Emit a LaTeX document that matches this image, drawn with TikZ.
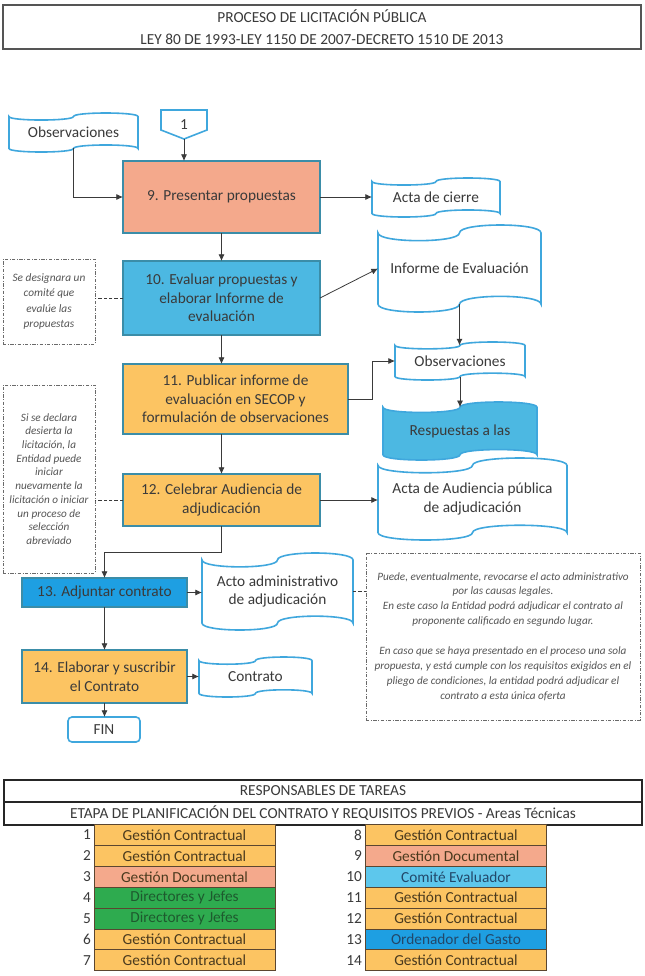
\documentclass[tikz,border=0pt]{standalone}
\usepackage{fontspec}
\setmainfont{Carlito}
\usetikzlibrary{arrows.meta,calc}
\definecolor{salmon}{HTML}{F4A98C}
\definecolor{lblue}{HTML}{4CB8E2}
\definecolor{tlblue}{HTML}{5DC7EC}
\definecolor{orng}{HTML}{FCC462}
\definecolor{dblue}{HTML}{1E9FE2}
\definecolor{grn}{HTML}{2EAB4F}
\definecolor{tapeblue}{HTML}{3FA7DD}
\definecolor{boxedge}{HTML}{3B8DA8}
\definecolor{txt}{HTML}{3A3A3A}
\definecolor{linegray}{HTML}{3A3A3A}
\definecolor{notegray}{HTML}{6A6A6A}
\definecolor{notetxt}{HTML}{555555}
\definecolor{cellline}{HTML}{5B4630}
\definecolor{celltxt}{HTML}{4A3A1E}
\definecolor{greentxt}{HTML}{1E5A2E}
\definecolor{bluetxt}{HTML}{22486A}
\definecolor{titlegray}{HTML}{555555}
\newcommand\pbox[7]{%
  \pgfmathsetmacro\bw{(#5-#3)*0.75}%
  \pgfmathsetmacro\bh{(#6-#4)*0.75}%
  \node[#2, minimum width=\bw pt, minimum height=\bh pt] (#1) at ({(#3+#5)/2},{(#4+#6)/2}) {#7};
}
\newcommand\tnode[7]{%
  \pgfmathsetmacro\tA{0.09*(#6-#4)}%
  \pgfmathsetmacro\tC{1.333*\tA}%
  \pgfmathsetmacro\tM{(#3+#5)/2}%
  \pgfmathsetmacro\tT{#4+\tA}%
  \pgfmathsetmacro\tB{#6-\tA}%
  \draw[tape,#2] (#3,\tT) .. controls (#3,{\tT+\tC}) and (\tM,{\tT+\tC}) .. (\tM,\tT)
     .. controls (\tM,{\tT-\tC}) and (#5,{\tT-\tC}) .. (#5,\tT)
     -- (#5,\tB) .. controls (#5,{\tB-\tC}) and (\tM,{\tB-\tC}) .. (\tM,\tB)
     .. controls (\tM,{\tB+\tC}) and (#3,{\tB+\tC}) .. (#3,\tB) -- cycle;
  \pgfmathsetmacro\bw{(#5-#3)*0.75}%
  \pgfmathsetmacro\bh{(\tB-\tT)*0.75}%
  \node[tapetext, minimum width=\bw pt, minimum height=\bh pt] (#1) at (\tM,{(#4+#6)/2}) {#7};
}
\begin{document}
\begin{tikzpicture}[x=0.75pt,y=-0.75pt,
  every node/.style={inner sep=0pt, outer sep=0pt},
  procbox/.style={draw=boxedge, line width=1.3pt, text=txt, align=center, font=\fontsize{11.5}{14}\selectfont},
  tape/.style={draw=tapeblue, line width=1.2pt, fill=white},
  tapetext/.style={text=txt, align=center, font=\fontsize{11.5}{14}\selectfont},
  note/.style={draw=notegray, line width=0.6pt, dash pattern=on 2.5pt off 1.2pt on 0.6pt off 1.2pt, text=notetxt, align=center},
  arr/.style={draw=linegray, line width=0.6pt, -{Latex[length=5pt,width=4.5pt]}},
  dline/.style={draw=linegray, line width=0.6pt, dash pattern=on 2.5pt off 1.5pt},
  cell/.style={draw=cellline, line width=0.7pt, minimum width=135.75pt, minimum height=15.675pt, font=\fontsize{11.5}{14}\selectfont},
  num/.style={anchor=east, font=\fontsize{11.5}{14}\selectfont, text=txt},
  hdr/.style={draw=black!85, line width=1.1pt, text=txt, font=\fontsize{11.5}{14}\selectfont}
]
\useasboundingbox (0,0) rectangle (645,976);
\fill[white] (0,0) rectangle (645,976);

% title
\pbox{title}{draw=titlegray, line width=0.8pt, text=txt, align=center, font=\fontsize{11.5}{16.5}\selectfont}{3}{5}{641}{49}{PROCESO DE LICITACIÓN PÚBLICA\\ LEY 80 DE 1993-LEY 1150 DE 2007-DECRETO 1510 DE 2013}

% off-page connector
\draw[tape] (161,110) -- (207,110) -- (207,130) -- (184,139) -- (161,130) -- cycle;
\pbox{c1}{tapetext}{161}{110}{207}{139}{1}

% process boxes
\pbox{b9}{procbox, fill=salmon}{123}{161}{320}{233}{9. Presentar propuestas}
\pbox{b10}{procbox, fill=lblue}{123}{261}{320}{335}{10. Evaluar propuestas y\\ elaborar Informe de\\ evaluación}
\pbox{b11}{procbox, fill=orng}{123}{364}{348}{434}{11. Publicar informe de\\ evaluación en SECOP y\\ formulación de observaciones}
\pbox{b12}{procbox, fill=orng}{123}{474}{320}{526}{12. Celebrar Audiencia de\\ adjudicación}
\pbox{b13}{procbox, fill=dblue}{22}{578}{187}{607}{13. Adjuntar contrato}
\pbox{b14}{procbox, fill=orng}{22}{650}{187}{703}{14. Elaborar y suscribir\\ el Contrato}
\pbox{fin}{procbox, draw=tapeblue, line width=1.2pt, rounded corners=3pt, fill=white}{68}{717}{140}{742}{FIN}

% documents (punched tape)
\tnode{obsL}{}{9}{113}{138}{152}{Observaciones}
\tnode{acta}{}{372}{178}{500}{217}{Acta de cierre}
\tnode{inf}{}{378}{225}{541}{312}{Informe de Evaluación}
\tnode{obsR}{}{395}{342}{525}{380}{Observaciones}
\tnode{resp}{fill=lblue}{383}{402}{537}{460}{Respuestas a las}
\tnode{actaA}{}{378}{458}{567}{540}{Acta de Audiencia pública\\ de adjudicación}
\tnode{acto}{}{202}{553}{353}{630}{Acto administrativo\\ de adjudicación}
\tnode{contr}{}{199}{657}{312}{697}{Contrato}

% notes
\pbox{n1}{note, font=\itshape\fontsize{8.5}{11.7}\selectfont}{3}{259}{95}{344}{Se designara un\\ comité que\\ evalúe las\\ propuestas}
\pbox{n2}{note, font=\itshape\fontsize{8.4}{10.3}\selectfont}{3}{385}{95}{573}{Si se declara\\ desierta la\\ licitación, la\\ Entidad puede\\ iniciar\\ nuevamente la\\ licitación o iniciar\\ un proceso de\\ selección\\ abreviado}
\pbox{rn}{note, font=\itshape\fontsize{8.4}{11.2}\selectfont}{366}{553}{640}{720}{Puede, eventualmente, revocarse el acto administrativo\\ por las causas legales.\\ En este caso la Entidad podrá adjudicar el contrato al\\ proponente calificado en segundo lugar.\\[11.2pt] En caso que se haya presentado en el proceso una sola\\ propuesta, y está cumple con los requisitos exigidos en el\\ pliego de condiciones, la entidad podrá adjudicar el\\ contrato a esta única oferta}

% connectors
\draw[arr] (obsL.south) |- (b9.west);
\draw[arr] (c1.south) -- (c1.south |- b9.north);
\draw[arr] (b9.east) -- (b9.east -| acta.west);
\draw[arr] (b9.south) -- (b10.north);
\draw[dline] (b10.west) -- (b10.west -| n1.east);
\draw[arr] (b10.east) -- (inf.west);
\draw[arr] (inf.south) -- (inf.south |- obsR.north);
\draw[arr] (b10.south) -- (b10.south |- b11.north);
\draw[arr] (b11.east) -- ++(24,0) |- (obsR.west);
\draw[arr] (obsR.south) -- (obsR.south |- resp.north);
\draw[arr] (b11.south -| b12.north) -- (b12.north);
\draw[dline] (b12.west) -- (b12.west -| n2.east);
\draw[arr] (b12.east) -- (b12.east -| actaA.west);
\draw[arr] (b12.south) -- ++(0,26) -| (b13.north);
\draw[arr] (b13.east) -- (b13.east -| acto.west);
\draw[dline] (acto.east) -- (acto.east -| rn.west);
\draw[arr] (b13.south) -- (b14.north);
\draw[arr] (b14.east) -- (b14.east -| contr.west);
\draw[arr] (b14.south) -- (b14.south |- fin.north);

% table
\pbox{h1}{hdr}{4}{780}{642}{802}{RESPONSABLES DE TAREAS}
\pbox{h2}{hdr}{4}{802}{642}{825}{ETAPA DE PLANIFICACIÓN DEL CONTRATO Y REQUISITOS PREVIOS - Areas Técnicas}
\foreach \i/\lab/\col/\tc in {1/Gestión Contractual/orng/celltxt, 2/Gestión Contractual/orng/celltxt, 3/Gestión Documental/salmon/celltxt, 4/Directores y Jefes/grn/greentxt, 5/Directores y Jefes/grn/greentxt, 6/Gestión Contractual/orng/celltxt, 7/Gestión Contractual/orng/celltxt}{
  \pgfmathsetmacro\ry{824.5+20.9*(\i-0.5)}
  \node[cell, fill=\col, text=\tc] (L\i) at (184.5,\ry) {\lab};
  \node[num] (nL\i) at (91,\ry) {\i};
}
\foreach \i/\lab/\col/\tc in {8/Gestión Contractual/orng/celltxt, 9/Gestión Documental/salmon/celltxt, 10/Comité Evaluador/tlblue/bluetxt, 11/Gestión Contractual/orng/celltxt, 12/Gestión Contractual/orng/celltxt, 13/Ordenador del Gasto/dblue/bluetxt, 14/Gestión Contractual/orng/celltxt}{
  \pgfmathsetmacro\ry{824.5+20.9*(\i-7.5)}
  \node[cell, fill=\col, text=\tc] (R\i) at (456,\ry) {\lab};
  \node[num] (nR\i) at (362,\ry) {\i};
}
\end{tikzpicture}
\end{document}
